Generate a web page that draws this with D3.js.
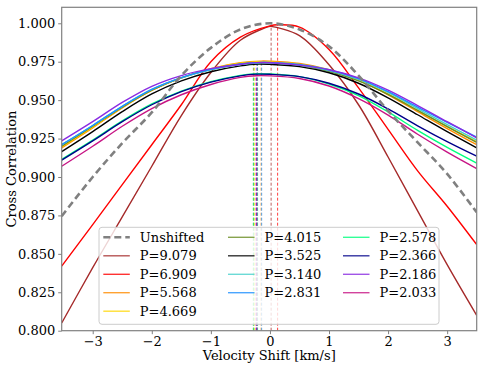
<!doctype HTML>
<html>
<head>
    <meta charset="utf-8">
    <style>
        body { margin: 0; background: white; }
        text { font-family: "DejaVu Serif", serif; fill: black; }
    </style>
    <script src="https://d3js.org/d3.v7.min.js"></script>
</head>
<body>
<script>
    // sample positions (km/s) shared by every curve
    var xs = [-3.525, -3, -2.5, -2, -1.5, -1, -0.5, 0, 0.5, 1, 1.5, 2, 2.5, 3, 3.5];

    var labels = ["Unshifted", "P=9.079", "P=6.909", "P=5.568", "P=4.669", "P=4.015", "P=3.525",
                  "P=3.140", "P=2.831", "P=2.578", "P=2.366", "P=2.186", "P=2.033"];
    var colors = ["#808080", "#a52a2a", "#ff0000", "#ff8c00", "#ffd700", "#6b8e23", "#000000",
                  "#48d1cc", "#1e90ff", "#00ff7f", "#00008b", "#8a2be2", "#c71585"];

    var unshifted = [0.8745, 0.900, 0.922, 0.942, 0.966, 0.984, 0.996, 1.000, 0.996, 0.985, 0.966, 0.943, 0.9225, 0.902, 0.877];
    var p9079 = [0.805, 0.841, 0.874, 0.907, 0.940, 0.968, 0.989, 0.998, 0.992, 0.973, 0.947, 0.913, 0.878, 0.843, 0.810];
    var p6909 = [0.842, 0.869, 0.895, 0.921, 0.947, 0.975, 0.991, 0.9983, 0.9975, 0.983, 0.958, 0.931, 0.904, 0.881, 0.856];
    var p5568 = [0.9190, 0.9320, 0.9450, 0.9563, 0.9645, 0.9705, 0.9743, 0.9753, 0.9738, 0.9698, 0.9630, 0.9535, 0.9425, 0.9315, 0.9210];
    var p4669 = [0.9195, 0.9325, 0.9453, 0.9565, 0.9645, 0.9703, 0.9740, 0.9748, 0.9733, 0.9693, 0.9630, 0.9540, 0.9435, 0.9330, 0.9230];
    var p4015 = [0.9200, 0.9330, 0.9455, 0.9565, 0.9645, 0.9700, 0.9735, 0.9741, 0.9726, 0.9688, 0.9625, 0.9537, 0.9433, 0.9327, 0.9225];
    var p3525 = [0.9165, 0.9295, 0.9425, 0.9540, 0.9625, 0.9685, 0.9723, 0.9733, 0.9718, 0.9678, 0.9610, 0.9515, 0.9405, 0.9295, 0.9190];
    var p3140 = [0.9210, 0.9335, 0.9460, 0.9570, 0.9645, 0.9697, 0.9731, 0.9741, 0.9728, 0.9693, 0.9635, 0.9550, 0.9445, 0.9340, 0.9240];
    var p2831 = [0.9210, 0.9335, 0.9460, 0.9570, 0.9647, 0.9700, 0.9735, 0.9745, 0.9733, 0.9698, 0.9640, 0.9555, 0.9455, 0.9355, 0.9260];
    var p2578 = [0.9115, 0.9240, 0.9365, 0.9475, 0.9559, 0.9620, 0.9661, 0.9670, 0.9653, 0.9605, 0.9530, 0.9423, 0.9303, 0.9192, 0.9090];
    var p2366 = [0.9110, 0.9235, 0.9360, 0.9470, 0.9555, 0.9617, 0.9658, 0.9668, 0.9653, 0.9610, 0.9540, 0.9443, 0.9333, 0.9230, 0.9135];
    var p2186 = [0.9235, 0.9360, 0.9485, 0.9590, 0.9660, 0.9705, 0.9733, 0.9743, 0.9728, 0.9698, 0.9645, 0.9565, 0.9465, 0.9360, 0.9255];
    var p2033 = [0.9070, 0.9200, 0.9330, 0.9445, 0.9535, 0.9602, 0.9648, 0.9658, 0.9641, 0.9592, 0.9510, 0.9403, 0.9278, 0.9162, 0.9055];

    // peak of each shifted curve (velocity, correlation), drawn as dashed markers
    var peakX = [null, 0.02, 0.13, -0.15, -0.26, -0.28, -0.21, -0.21, -0.14, -0.28, -0.23, -0.23, -0.23];
    var peakY = [null, 0.998, 0.999, 0.9754, 0.9749, 0.9743, 0.9735, 0.9742, 0.9746, 0.9671, 0.9669, 0.9744, 0.9659];

    var yTicks = [0.800, 0.825, 0.850, 0.875, 0.900, 0.925, 0.950, 0.975, 1.000];
    var xTicks = [-3, -2, -1, 0, 1, 2, 3];

    var series = [unshifted, p9079, p6909, p5568, p4669, p4015, p3525, p3140, p2831, p2578, p2366, p2186, p2033];

    var svg = d3.select("body").append("svg")
        .attr("width", 485)
        .attr("height", 369);

    var mLeft = 61.7, mRight = 476.7, mTop = 7.3, mBottom = 330.7;

    var x = d3.scaleLinear().domain([-3.525, 3.5]).range([mLeft, mRight]);
    var y = d3.scaleLinear().domain([0.8, 1.0104]).range([mBottom, mTop]);

    svg.append("clipPath").attr("id", "plotclip")
        .append("rect")
        .attr("x", mLeft).attr("y", mTop)
        .attr("width", mRight - mLeft).attr("height", mBottom - mTop);

    var plot = svg.append("g").attr("clip-path", "url(#plotclip)");

    var line = d3.line()
        .x(function(d) { return x(d[0]); })
        .y(function(d) { return y(d[1]); })
        .curve(d3.curveCatmullRom.alpha(0.5));

    // dashed peak markers
    for (var i = 1; i < series.length; i++) {
        plot.append("line")
            .attr("x1", x(peakX[i])).attr("x2", x(peakX[i]))
            .attr("y1", y(0.8)).attr("y2", y(peakY[i]))
            .attr("stroke", colors[i])
            .attr("stroke-width", 1)
            .attr("stroke-dasharray", "3,2")
            .attr("opacity", 0.75);
    }

    // shifted curves
    for (var i = 1; i < series.length; i++) {
        var pts = xs.map(function(v, j) { return [v, series[i][j]]; });
        pts.push([peakX[i], peakY[i]]);
        pts.sort(function(a, b) { return a[0] - b[0]; });
        plot.append("path")
            .datum(pts)
            .attr("fill", "none")
            .attr("stroke", colors[i])
            .attr("stroke-width", 1.4)
            .attr("d", line);
    }

    // unshifted curve on top
    plot.append("path")
        .datum(xs.map(function(v, j) { return [v, unshifted[j]]; }))
        .attr("fill", "none")
        .attr("stroke", colors[0])
        .attr("stroke-width", 2.6)
        .attr("stroke-dasharray", "7,4")
        .attr("d", line);

    // axes
    var yAxis = svg.append("g")
        .attr("transform", "translate(" + mLeft + ",0)")
        .call(d3.axisLeft(y).tickValues(yTicks).tickFormat(d3.format(".3f")).tickSize(3.5).tickPadding(3));
    var xAxis = svg.append("g")
        .attr("transform", "translate(0," + mBottom + ")")
        .call(d3.axisBottom(x).tickValues(xTicks).tickFormat(d3.format("d")).tickSize(3.5).tickPadding(3));

    [xAxis, yAxis].forEach(function(a) {
        a.select(".domain").remove();
        a.selectAll("line").attr("stroke", "#808080");
        a.selectAll("text").attr("font-size", "13px").attr("font-family", "DejaVu Serif").attr("fill", "black");
    });

    // frame
    svg.append("rect")
        .attr("x", mLeft).attr("y", mTop)
        .attr("width", mRight - mLeft).attr("height", mBottom - mTop)
        .attr("fill", "none")
        .attr("stroke", "#808080")
        .attr("stroke-width", 1.2);

    svg.append("text")
        .attr("x", (mLeft + mRight) / 2)
        .attr("y", 360)
        .attr("text-anchor", "middle")
        .attr("font-size", "13px")
        .text("Velocity Shift [km/s]");

    svg.append("text")
        .attr("transform", "translate(16," + ((mTop + mBottom) / 2) + ") rotate(-90)")
        .attr("text-anchor", "middle")
        .attr("font-size", "13px")
        .text("Cross Correlation");

    // legend, 3 columns
    var legend = svg.append("g");
    legend.append("rect")
        .attr("x", 99).attr("y", 227.3)
        .attr("width", 340).attr("height", 97)
        .attr("rx", 3)
        .attr("fill", "white")
        .attr("fill-opacity", 0.8)
        .attr("stroke", "#cccccc")
        .attr("stroke-width", 1);

    var colX = [103.3, 228, 343];
    var rowY = [237.3, 255.8, 274.3, 292.7, 311.2];
    labels.forEach(function(lab, i) {
        var c = i < 5 ? 0 : (i < 9 ? 1 : 2);
        var r = i < 5 ? i : (i < 9 ? i - 5 : i - 9);
        legend.append("line")
            .attr("x1", colX[c]).attr("x2", colX[c] + 26.5)
            .attr("y1", rowY[r]).attr("y2", rowY[r])
            .attr("stroke", colors[i])
            .attr("stroke-width", i == 0 ? 2.6 : 1.4)
            .attr("stroke-dasharray", i == 0 ? "7,4" : null)
            .attr("opacity", i == 0 ? 1 : 0.8);
        legend.append("text")
            .attr("x", colX[c] + 36.5)
            .attr("y", rowY[r] + 4.6)
            .attr("font-size", "13px")
            .text(lab);
    });
</script>
</body>
</html>
